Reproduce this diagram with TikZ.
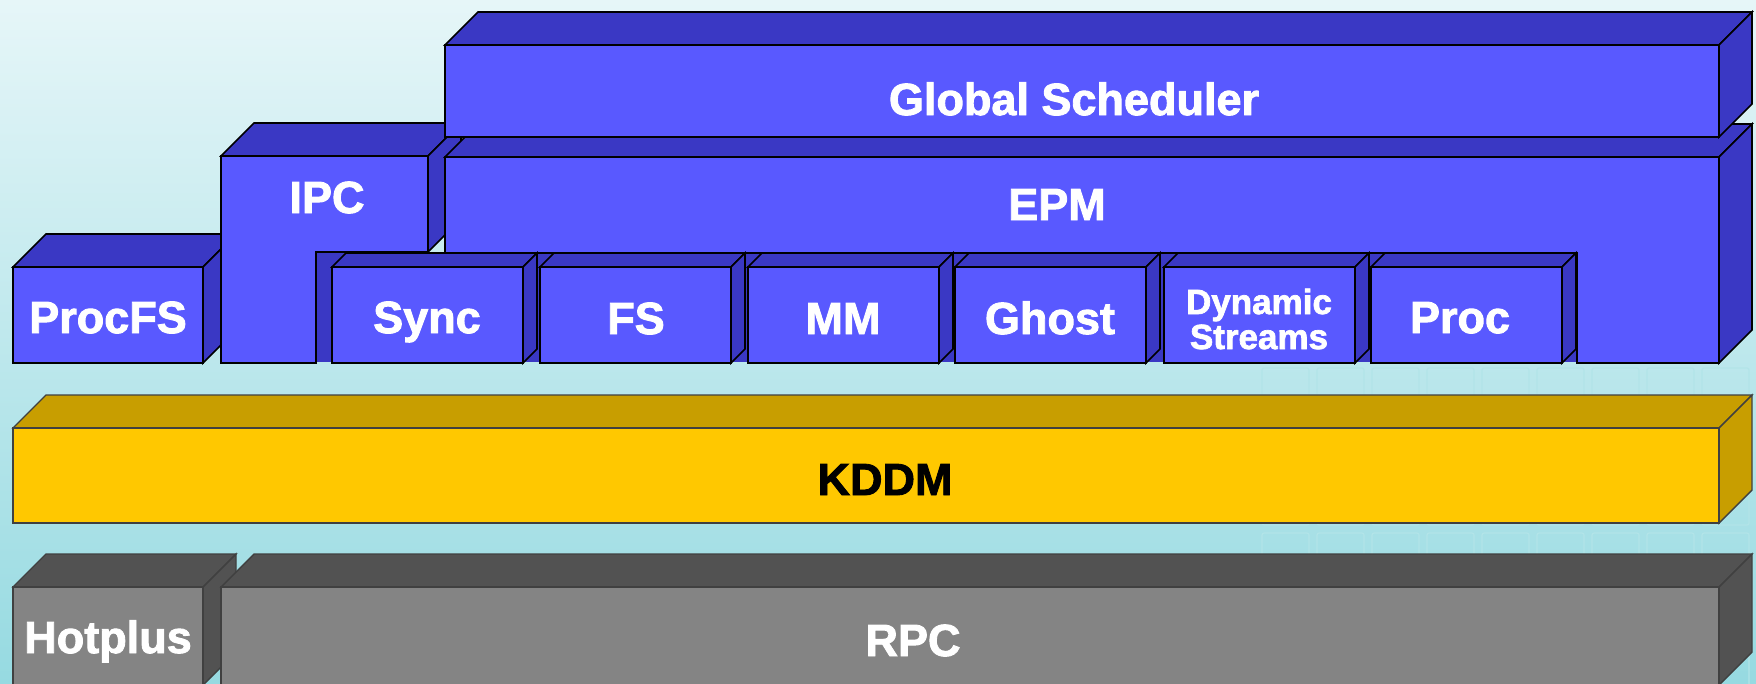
\documentclass[tikz,border=0pt]{standalone}
\usepackage{fontspec}
\setmainfont{Liberation Sans}[BoldFeatures={FakeBold=2}]
\definecolor{bfront}{RGB}{89,89,255}
\definecolor{bdark}{RGB}{58,56,196}
\definecolor{yfront}{RGB}{255,200,0}
\definecolor{ydark}{RGB}{200,158,0}
\definecolor{gfront}{RGB}{132,132,132}
\definecolor{gdark}{RGB}{82,82,82}
\definecolor{bgtop}{RGB}{230,246,248}
\definecolor{bgbot}{RGB}{150,218,225}
\definecolor{gridc}{RGB}{178,228,232}
\tikzset{
  bF/.style={fill=bfront, draw=black, line width=1.6pt},
  bD/.style={fill=bdark, draw=black, line width=1.6pt},
  yF/.style={fill=yfront, draw=black!75, line width=1.4pt},
  yD/.style={fill=ydark, draw=black!75, line width=1.4pt},
  gF/.style={fill=gfront, draw=black!75, line width=1.4pt},
  gD/.style={fill=gdark, draw=black!75, line width=1.4pt},
  lbl/.style={text=white, font=\bfseries\fontsize{45}{50}\selectfont, anchor=base, inner sep=0pt},
  lblsmall/.style={text=white, font=\bfseries\fontsize{35}{35}\selectfont, align=center, anchor=center, inner sep=0pt},
}
% #1 x1, #2 y1, #3 x2, #4 y2, #5 depth, #6 colour prefix
\newcommand\myblock[6]{%
  \draw[#6D] (#1,#2) -- (#1+#5,#2-#5) -- (#3+#5,#2-#5) -- (#3,#2) -- cycle;
  \draw[#6D] (#3,#2) -- (#3+#5,#2-#5) -- (#3+#5,#4-#5) -- (#3,#4) -- cycle;
  \draw[#6F] (#1,#2) rectangle (#3,#4);
}
\begin{document}
\begin{tikzpicture}[x=1pt,y=-1pt]
\useasboundingbox (0,0) rectangle (1756,683);
% background
\shade[top color=bgtop, bottom color=bgbot] (0,0) rectangle (1756,683);
\foreach \gx in {1262,1317,...,1756} {
  \foreach \gy in {368,423,478,533,588,643} {
    \draw[gridc, line width=1.2pt, rounded corners=2pt] (\gx,\gy) rectangle ++(47,47);
  }
}
% ProcFS
\myblock{13}{267}{203}{363}{33}{b}
% IPC (L-shaped)
\draw[bD] (221,156) -- (254,123) -- (461,123) -- (428,156) -- cycle;
\draw[bD] (428,156) -- (461,123) -- (461,219) -- (428,252) -- cycle;
\draw[bF] (221,156) -- (428,156) -- (428,252) -- (316,252) -- (316,363) -- (221,363) -- cycle;
% EPM (inverted L)
\draw[bD] (445,157) -- (478,124) -- (1752,124) -- (1719,157) -- cycle;
\draw[bD] (1719,157) -- (1752,124) -- (1752,330) -- (1719,363) -- cycle;
\fill[bdark] (317,253) rectangle (1577,362);
\draw[bF] (445,157) -- (1719,157) -- (1719,363) -- (1577,363) -- (1577,253) -- (445,253) -- cycle;
% Global Scheduler
\myblock{445}{45}{1719}{137}{33}{b}
% sub-components
\foreach \sx in {332,540,748,955,1164,1371} {
  \myblock{\sx}{267}{\sx+191}{363}{14}{b}
}
% KDDM
\myblock{13}{428}{1719}{523}{33}{y}
% Hotplus and RPC
\myblock{13}{587}{203}{685}{33}{g}
\myblock{221}{587}{1719}{685}{33}{g}
% labels
\node[lbl] (gs) at (1074,115) {Global Scheduler};
\node[lbl] (ipc) at (327,213) {IPC};
\node[lbl] (epm) at (1057,220) {EPM};
\node[lbl] (procfs) at (108,333) {ProcFS};
\node[lbl] (sync) at (427,333) {Sync};
\node[lbl] (fs) at (636,334) {FS};
\node[lbl] (mm) at (843,334) {MM};
\node[lbl] (ghost) at (1050,334) {Ghost};
\node[lblsmall] (dyn) at (1259,319) {Dynamic\\Streams};
\node[lbl] (proc) at (1460,333) {Proc};
\node[lbl, text=black] (kddm) at (885,495) {KDDM};
\node[lbl] (hot) at (108,653) {Hotplus};
\node[lbl] (rpc) at (913,656) {RPC};
\end{tikzpicture}
\end{document}
